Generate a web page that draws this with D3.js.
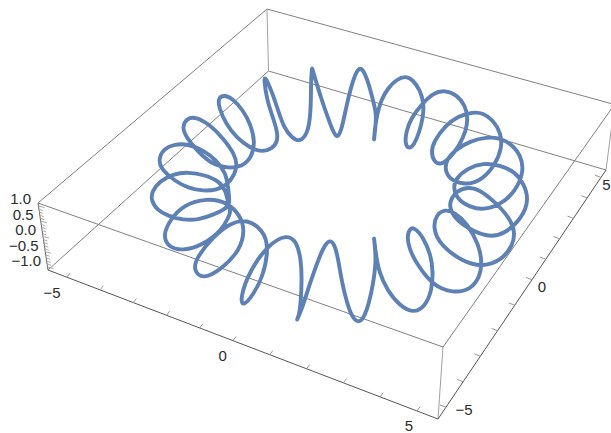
<!DOCTYPE html>
<html>
<head>
<meta charset="utf-8">
<script src="https://cdn.jsdelivr.net/npm/d3@7"></script>
<style>
  html, body { margin: 0; padding: 0; background: #fff; }
  text { font-family: "Liberation Sans", sans-serif; font-size: 15px; fill: #2b2b2b; }
</style>
</head>
<body>
<script>
// curve, in view plane units
const curveU = [
  29.7,29.7,30.3,31.0,32.0,32.6,33.1,33.5,33.8,34.2,34.7,35.2,35.8,36.4,36.9,37.3,37.6,37.5,37.4,37.4,
  37.6,37.9,38.7,40.0,41.3,42.5,43.2,43.3,43.1,42.3,41.5,41.0,40.7,40.9,41.6,43.3,
  45.3,47.0,48.0,48.2,47.9,46.7,45.5,44.5,43.6,43.3,44.0,46.3,
  48.3,50.2,51.3,51.5,51.0,49.3,47.8,46.8,45.6,44.9,45.1,46.0,
  48.7,50.5,52.2,52.9,52.4,51.5,50.0,48.3,46.8,45.6,45.3,45.8,
  47.0,48.3,50.0,51.5,52.4,52.1,51.0,49.9,48.7,47.0,45.5,44.6,44.5,45.2,
  46.7,48.2,49.5,50.2,50.1,49.3,48.3,47.3,45.8,44.5,43.4,43.1,43.4,44.1,
  45.0,45.9,46.6,46.8,46.5,45.7,44.5,43.3,42.2,41.1,40.6,40.5,40.9,41.4,41.9,42.3,42.4,
  42.0,41.3,40.6,39.7,38.8,38.1,37.7,37.5,37.4,37.4,37.6,37.6,37.2,36.7,36.1,
  35.6,35.1,34.6,34.2,33.8,33.4,32.8,32.1,31.5,31.2,31.2,31.1,31.1,31.0,30.7,30.0,
  29.2,28.4,27.8,27.2,26.5,26.4,26.7,27.2,27.7,27.8,27.2,26.2,
  25.0,23.7,22.6,21.9,21.8,22.4,23.2,24.3,25.1,25.5,25.2,24.2,
  22.8,21.3,19.8,18.6,18.2,18.7,19.6,20.9,22.4,23.5,23.7,23.5,
  22.7,21.7,20.3,18.8,17.5,16.3,15.8,16.3,17.5,18.8,20.3,21.6,
  22.6,22.8,23.0,22.7,21.3,19.8,18.3,16.8,15.7,15.1,15.2,16.0,
  17.3,18.8,20.5,21.9,22.6,22.8,23.1,22.8,22.2,20.3,18.3,16.8,
  16.3,17.0,18.3,20.7,22.7,24.0,24.5,24.0,22.3,20.3,19.3,19.7,
  21.3,23.0,24.7,26.3,26.9,26.3,25.3,24.3,24.0,25.0,26.8,28.7,
  29.7,30.1,30.2,30.0
];
const curveV = [
  32.0,32.0,30.6,28.3,25.5,24.3,24.0,24.6,25.8,28.3,30.3,31.7,32.3,31.8,30.3,28.5,26.2,24.8,23.8,23.8,
  25.5,27.2,29.0,30.6,31.3,30.7,29.0,27.2,25.5,23.7,22.8,22.8,23.6,24.8,26.3,28.6,
  29.3,29.0,27.7,26.2,24.5,22.3,21.3,20.9,21.5,22.8,24.5,26.2,
  26.7,26.0,24.5,23.2,21.8,20.0,18.9,18.7,19.1,20.3,21.2,22.4,
  23.8,23.4,21.8,20.0,18.4,17.2,16.5,16.3,16.8,17.8,18.8,20.0,
  20.7,21.0,20.5,19.2,17.2,15.5,14.3,13.8,13.7,14.1,15.0,16.0,17.2,18.1,
  18.5,18.0,16.5,14.8,13.3,12.0,11.3,11.2,11.6,12.6,14.1,15.2,16.2,16.5,
  15.8,14.6,13.1,11.8,10.5,9.5,9.0,9.3,10.4,11.8,13.2,14.4,14.9,14.5,13.3,11.8,10.3,
  9.0,8.0,7.6,7.9,8.8,10.0,11.5,12.8,14.0,14.0,12.2,11.2,9.6,7.8,6.6,
  7.2,8.7,10.8,12.8,13.8,13.4,11.8,9.8,7.8,6.8,6.8,8.0,10.0,12.0,13.4,14.2,
  13.8,12.8,11.0,9.2,7.6,8.0,10.0,11.5,13.0,14.1,14.9,15.2,
  14.8,13.8,12.4,10.8,9.8,9.5,9.8,11.0,12.5,14.2,15.7,16.7,
  16.8,16.5,15.2,13.7,12.7,11.8,11.7,12.4,13.9,15.5,16.5,17.4,
  18.5,19.0,19.1,18.8,18.1,17.1,16.1,14.9,14.4,14.4,15.0,16.0,
  17.3,18.7,20.3,20.8,21.5,22.0,22.0,21.6,21.0,20.0,19.1,18.1,
  17.4,17.2,17.5,18.1,19.1,20.3,21.2,21.8,23.0,24.5,25.1,24.7,
  23.5,22.0,20.5,19.8,20.2,21.5,23.0,25.0,26.8,28.0,27.0,25.7,
  23.7,22.3,21.9,23.0,24.7,27.7,29.5,30.7,29.8,27.0,24.5,23.4,
  24.2,26.0,28.0,31.3
];

const xTicks = [-5,-4,-3,-2,-1,0,1,2,3,4,5];
const yTicks = [-5,-4,-3,-2,-1,0,1,2,3,4,5];
const zTicks = d3.range(-10, 11).map(d => d / 10);
const xLabels = [-5, 0, 5];
const yLabels = [-5, 0, 5];
const zLabels = [-1, -0.5, 0, 0.5, 1];

const w = 611;
const h = 433;

const svg = d3.select("body")
  .append("svg")
  .attr("width", w)
  .attr("height", h)
  .style("display", "block");

const uScale = d3.scaleLinear().domain([0, 61.1]).range([0, w]);
const vScale = d3.scaleLinear().domain([0, 43.3]).range([0, h]);

// box corners
const tBack = [267, 9], tRight = [614.5, 104.5], tFront = [443, 347], tLeft = [38, 203];
const bBack = [268.5, 71], bRight = [606, 170], bFront = [438, 419], bLeft = [48, 270];

const edges = [
  [tBack, tRight, "#808080"], [tRight, tFront, "#808080"], [tFront, tLeft, "#808080"], [tLeft, tBack, "#808080"],
  [bBack, bRight, "#808080"], [bLeft, bBack, "#808080"],
  [tBack, bBack, "#a0a0a0"], [tRight, bRight, "#a0a0a0"], [tFront, bFront, "#a0a0a0"],
  [bRight, bFront, "#555"], [bFront, bLeft, "#555"], [tLeft, bLeft, "#666"]
];

svg.append("g").selectAll("line")
  .data(edges)
  .enter()
  .append("line")
  .attr("x1", d => d[0][0])
  .attr("y1", d => d[0][1])
  .attr("x2", d => d[1][0])
  .attr("y2", d => d[1][1])
  .attr("stroke", d => d[2])
  .attr("stroke-width", 1);

// ticks get closer towards the back, so three stops
const xTickH = d3.scaleLinear().domain([-5, 0, 5]).range([67, 233, 417]);
const xEdgeV = d3.scaleLinear().domain([bLeft[0], bFront[0]]).range([bLeft[1], bFront[1]]);
const yTickH = d3.scaleLinear().domain([-5, 0, 5]).range([446, 532, 601]);
const yEdgeV = d3.scaleLinear().domain([bFront[0], bRight[0]]).range([bFront[1], bRight[1]]);
const zTickV = d3.scaleLinear().domain([-1, 1]).range([267, 206]);
const zEdgeH = d3.scaleLinear().domain([bLeft[1], tLeft[1]]).range([bLeft[0], tLeft[0]]);

const ticks = svg.append("g").attr("stroke", "#999").attr("stroke-width", 1);

ticks.selectAll("line.x")
  .data(xTicks)
  .enter()
  .append("line")
  .attr("class", "x")
  .attr("x1", d => xTickH(d))
  .attr("y1", d => xEdgeV(xTickH(d)))
  .attr("x2", d => xTickH(d) + 3)
  .attr("y2", d => xEdgeV(xTickH(d)) - 4.2);

ticks.selectAll("line.y")
  .data(yTicks)
  .enter()
  .append("line")
  .attr("class", "y")
  .attr("x1", d => yTickH(d))
  .attr("y1", d => yEdgeV(yTickH(d)))
  .attr("x2", d => yTickH(d) - 6)
  .attr("y2", d => yEdgeV(yTickH(d)) - 2.2);

ticks.selectAll("line.z")
  .data(zTicks)
  .enter()
  .append("line")
  .attr("class", "z")
  .attr("x1", d => zEdgeH(zTickV(d)))
  .attr("y1", d => zTickV(d))
  .attr("x2", d => zEdgeH(zTickV(d)) + (Math.abs(d * 2 % 1) < 0.01 ? 6 : 4))
  .attr("y2", d => zTickV(d) + 1.5)
  .attr("stroke", "#aaa");

// the curve, hand read points so basis to take the jitter out
const line = d3.line()
  .x(d => uScale(d[0]))
  .y(d => vScale(d[1]))
  .curve(d3.curveBasisClosed);

svg.append("path")
  .datum(d3.zip(curveU, curveV))
  .attr("d", line)
  .attr("fill", "none")
  .attr("stroke", "#5e81b5")
  .attr("stroke-width", 3.9)
  .attr("stroke-linejoin", "round");

// tick labels
const fmt = d => String(d).replace("-", "\u2212");

const xLabelDx = d3.scaleLinear().domain([-5, 0, 5]).range([-15, -10.3, -8]);
svg.append("g").selectAll("text")
  .data(xLabels)
  .enter()
  .append("text")
  .attr("x", d => xTickH(d) + xLabelDx(d))
  .attr("y", d => xEdgeV(xTickH(d)) + 20.5)
  .attr("text-anchor", "middle")
  .text(fmt);

const yLabelDx = d3.scaleLinear().domain([-5, 0, 5]).range([18, 10, 5.5]);
const yLabelDy = d3.scaleLinear().domain([-5, 0, 5]).range([8, 12, 12.6]);
svg.append("g").selectAll("text")
  .data(yLabels)
  .enter()
  .append("text")
  .attr("x", d => yTickH(d) + yLabelDx(d))
  .attr("y", d => yEdgeV(yTickH(d)) + yLabelDy(d))
  .attr("text-anchor", "middle")
  .text(fmt);

const zLabelV = d3.scaleLinear().domain([-1, 1]).range([261, 199]);
const zLabelH = d3.scaleLinear().domain([-1, 1]).range([41, 31]);

svg.append("g").selectAll("text")
  .data(zLabels)
  .enter()
  .append("text")
  .attr("x", d => zLabelH(d))
  .attr("y", d => zLabelV(d))
  .attr("dy", "0.36em")
  .attr("text-anchor", "end")
  .text(d => fmt(d3.format(".1f")(d)));
</script>
</body>
</html>
